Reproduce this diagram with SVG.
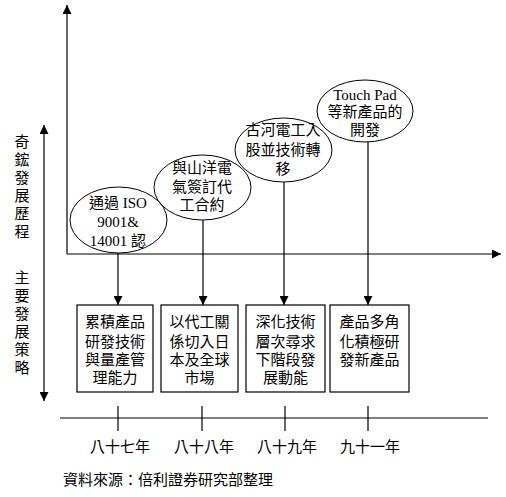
<svg xmlns="http://www.w3.org/2000/svg" width="506" height="497" viewBox="0 0 506 497">
<style>
text{font-family:"Liberation Serif","Noto Sans CJK TC",serif;font-size:15px;fill:#000;text-anchor:middle}
.l{stroke:#000;stroke-width:1.2;fill:none}
.e{stroke:#000;stroke-width:1;fill:#fff}
.b{stroke:#000;stroke-width:1.2;fill:#fff}
</style>
<defs>
<marker id="ah" viewBox="0 0 10 10" refX="10" refY="5" markerWidth="9" markerHeight="9" markerUnits="userSpaceOnUse" orient="auto">
<path d="M0,0 L10,5 L0,10 z" fill="#000"/>
</marker>
</defs>
<g id="connectors">
<line class="l" x1="67" y1="254" x2="67" y2="5" marker-end="url(#ah)"/>
<line class="l" x1="67" y1="254" x2="501" y2="254" marker-end="url(#ah)"/>
<line class="l" x1="44" y1="262" x2="44" y2="125" marker-end="url(#ah)"/>
<line class="l" x1="44" y1="262" x2="44" y2="401" marker-end="url(#ah)"/>
<line class="l" x1="118" y1="252" x2="118" y2="305" marker-end="url(#ah)"/>
<line class="l" x1="203" y1="219" x2="203" y2="305" marker-end="url(#ah)"/>
<line class="l" x1="284" y1="182" x2="284" y2="305" marker-end="url(#ah)"/>
<line class="l" x1="368" y1="142" x2="368" y2="305" marker-end="url(#ah)"/>
<line class="l" x1="60" y1="418" x2="488" y2="418"/>
<line class="l" x1="118" y1="406" x2="118" y2="431"/>
<line class="l" x1="202" y1="406" x2="202" y2="431"/>
<line class="l" x1="285" y1="406" x2="285" y2="431"/>
<line class="l" x1="368" y1="406" x2="368" y2="431"/>
</g>
<g id="label-history">
<text x="22" y="147">奇</text><text x="22" y="165">鋐</text><text x="22" y="183">發</text><text x="22" y="201">展</text><text x="22" y="219">歷</text><text x="22" y="237">程</text>
</g>
<g id="label-strategy">
<text x="22" y="283">主</text><text x="22" y="301">要</text><text x="22" y="319">發</text><text x="22" y="337">展</text><text x="22" y="355">策</text><text x="22" y="373">略</text>
</g>
<g id="event1">
<ellipse class="e" cx="118.5" cy="220" rx="48.5" ry="33"/>
<text x="118" y="208">通過 ISO</text>
<text x="118" y="227">9001&amp;</text>
<text x="118" y="246">14001 認</text>
</g>
<g id="event2">
<ellipse class="e" cx="202.5" cy="187.5" rx="48.5" ry="32.5"/>
<text x="202" y="173">與山洋電</text>
<text x="202" y="192">氣簽訂代</text>
<text x="202" y="210">工合約</text>
</g>
<g id="event3">
<ellipse class="e" cx="283.5" cy="150" rx="48.5" ry="32"/>
<text x="283" y="135">古河電工入</text>
<text x="283" y="155">股並技術轉</text>
<text x="283" y="174">移</text>
</g>
<g id="event4">
<ellipse class="e" cx="365" cy="111" rx="48" ry="31"/>
<text x="365" y="100">Touch Pad</text>
<text x="365" y="117">等新產品的</text>
<text x="365" y="135">開發</text>
</g>
<g id="box1">
<rect class="b" x="77" y="305" width="76" height="87"/>
<text x="115" y="327">累積產品</text><text x="115" y="347">研發技術</text><text x="115" y="365">與量產管</text><text x="115" y="383">理能力</text>
</g>
<g id="box2">
<rect class="b" x="161" y="305" width="77" height="87"/>
<text x="199.5" y="327">以代工關</text><text x="199.5" y="347">係切入日</text><text x="199.5" y="365">本及全球</text><text x="199.5" y="383">市場</text>
</g>
<g id="box3">
<rect class="b" x="246" y="305" width="79" height="87"/>
<text x="285.5" y="327">深化技術</text><text x="285.5" y="347">層次尋求</text><text x="285.5" y="365">下階段發</text><text x="285.5" y="383">展動能</text>
</g>
<g id="box4">
<rect class="b" x="330" y="305" width="79" height="87"/>
<text x="369.5" y="327">產品多角</text><text x="369.5" y="347">化積極研</text><text x="369.5" y="365">發新產品</text>
</g>
<g id="years">
<text x="120" y="452">八十七年</text>
<text x="204" y="452">八十八年</text>
<text x="287" y="452">八十九年</text>
<text x="370" y="452">九十一年</text>
</g>
<g id="source">
<text x="63" y="485" style="text-anchor:start">資料來源：倍利證券研究部整理</text>
</g>
</svg>
